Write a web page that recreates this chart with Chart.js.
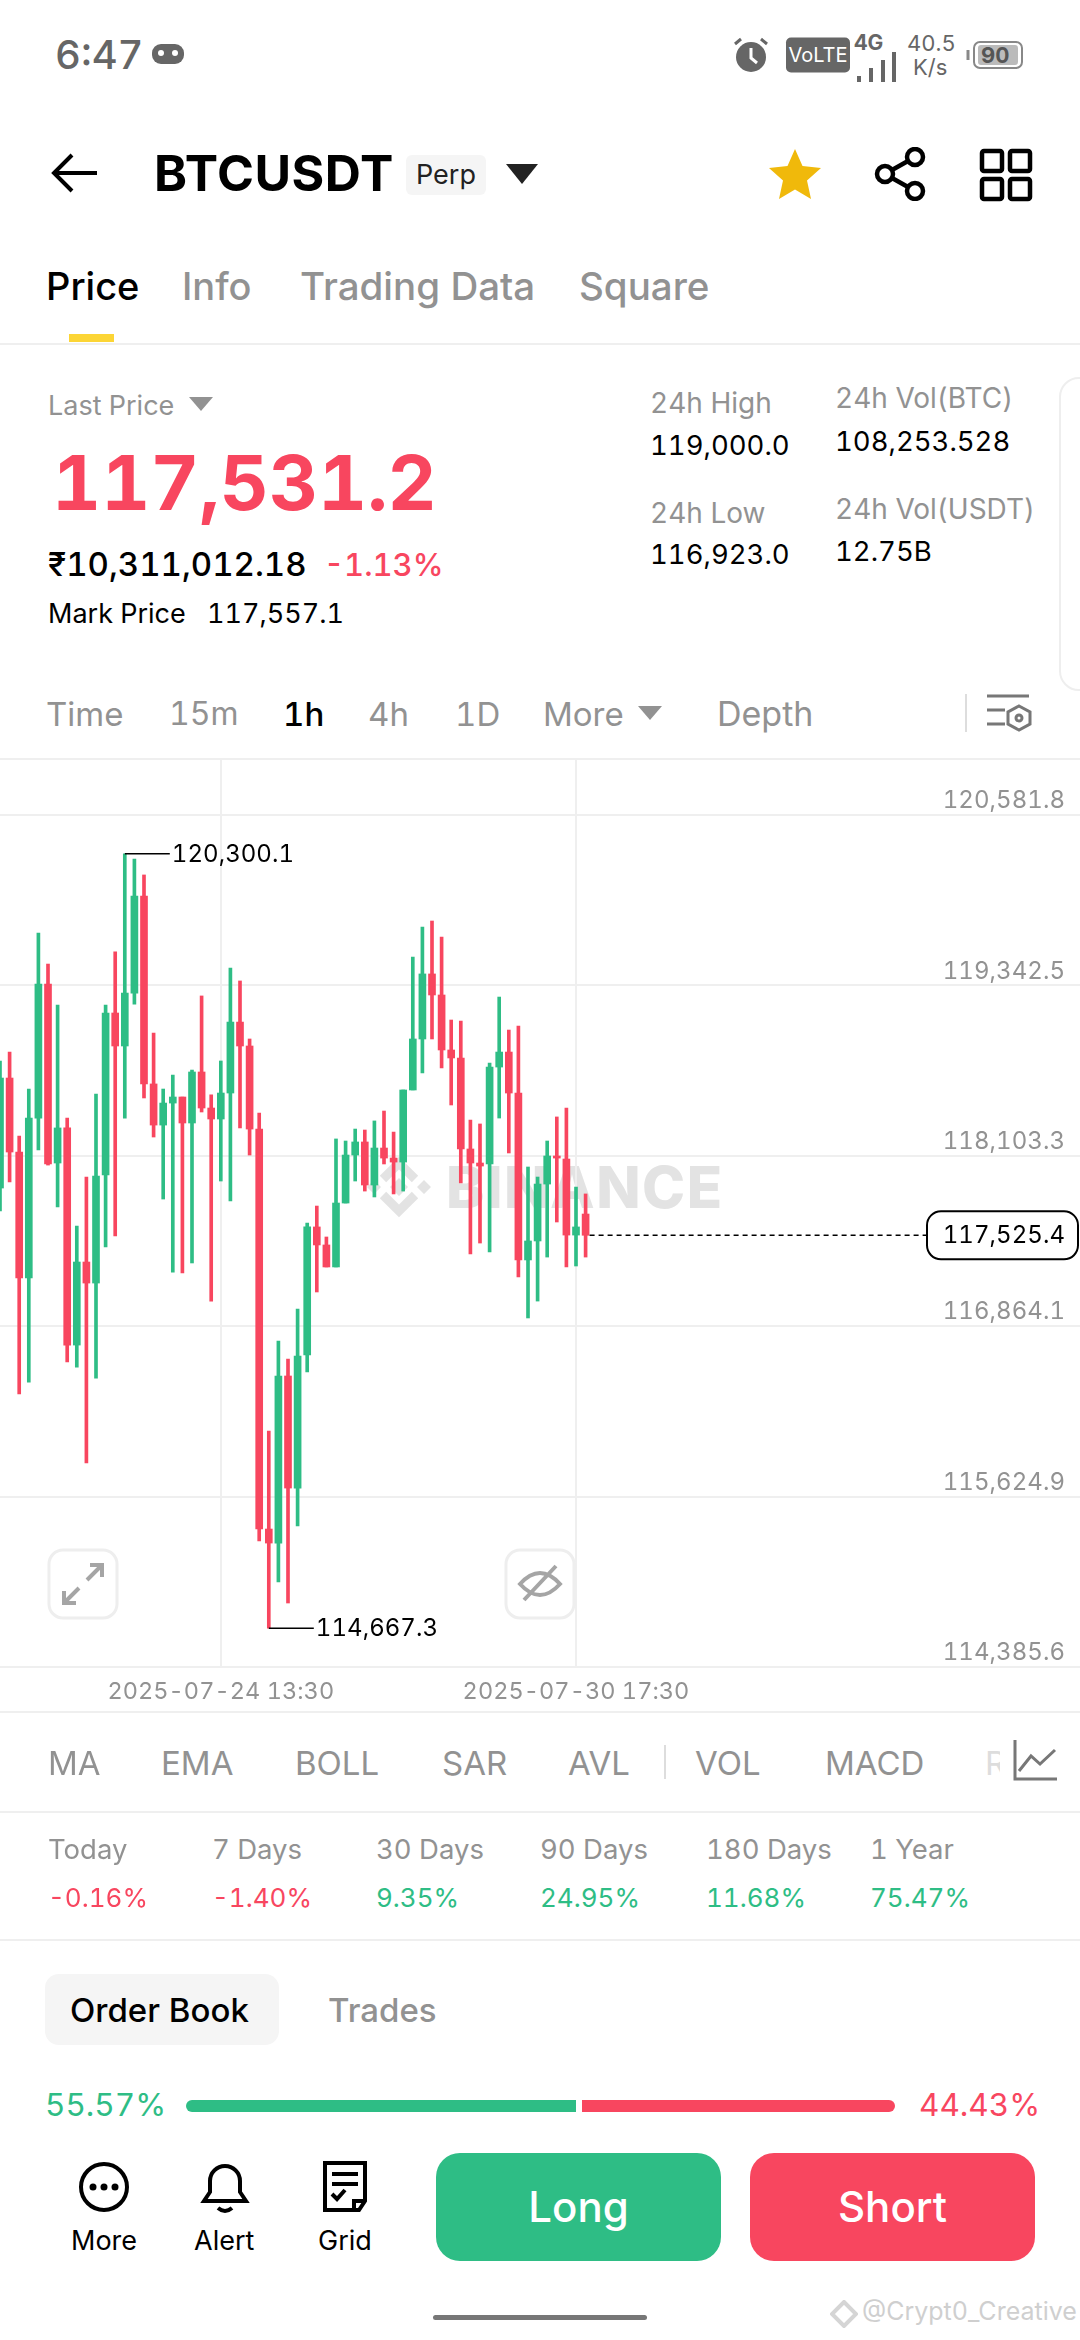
<!DOCTYPE html>
<html>
<head>
<meta charset="utf-8">
<script src="https://cdn.jsdelivr.net/npm/chart.js@4"></script>
<style>
  html, body { margin: 0; padding: 0; background: #fff; }
  body { width: 1080px; height: 2340px; position: relative; overflow: hidden; font-family: Inter, "Noto Sans", sans-serif; color: #000; font-variant-numeric: tabular-nums; }
  .t { position: absolute; white-space: nowrap; transform: translateY(-50%); line-height: 1; }
  .g { color: #929292; }
  .line { position: absolute; left: 0; width: 1080px; height: 2px; background: #efefef; }
  svg { position: absolute; }
  #chartBox { position: absolute; left: 0; top: 760px; }
</style>
</head>
<body>

<!-- status bar -->
<div class="t" style="left:55px;top:55px;font-size:40px;color:#666;font-weight:500">6:47</div>
<svg style="left:151px;top:42px" width="34" height="26" viewBox="0 0 34 26"><rect x="1" y="2" width="32" height="20" rx="9" fill="#666"/><circle cx="10" cy="11" r="3" fill="#fff"/><circle cx="24" cy="11" r="3" fill="#fff"/></svg>
<svg style="left:732px;top:36px" width="38" height="38" viewBox="0 0 38 38"><circle cx="19" cy="21" r="15" fill="#666"/><path d="M19 12v10l6 5" stroke="#fff" stroke-width="3" fill="none"/><path d="M3 8l6-5M35 8l-6-5" stroke="#666" stroke-width="3"/></svg>
<div class="t" style="left:786px;top:55px;width:64px;height:35px;background:#666;border-radius:5px;color:#fff;font-size:20px;text-align:center;line-height:35px">VoLTE</div>
<div class="t" style="left:854px;top:42px;font-size:21px;color:#666;font-weight:700">4G</div>
<svg style="left:856px;top:50px" width="40" height="36" viewBox="0 0 40 36"><path d="M3 26v6M15 18v14M27 10v22M38 2v30" stroke="#666" stroke-width="4"/></svg>
<div class="t" style="left:907px;top:43px;font-size:22px;color:#666">40.5</div>
<div class="t" style="left:913px;top:67px;font-size:22px;color:#666">K/s</div>
<svg style="left:966px;top:40px" width="58" height="30" viewBox="0 0 58 30"><rect x="8" y="2" width="48" height="26" rx="6" fill="none" stroke="#888" stroke-width="2"/><rect x="12" y="5" width="40" height="20" rx="3" fill="#bbb"/><path d="M2 10v10" stroke="#888" stroke-width="3"/></svg>
<div class="t" style="left:981px;top:55px;font-size:22px;color:#555;font-weight:700">90</div>

<!-- title row -->
<svg style="left:50px;top:150px" width="50" height="46" viewBox="0 0 50 46"><path d="M47 23H5M22 5L4 23l18 18" stroke="#000" stroke-width="4" fill="none"/></svg>
<div class="t" style="left:154px;top:173px;font-size:50px;font-weight:700;letter-spacing:0.5px">BTCUSDT</div>
<div class="t" style="left:406px;top:175px;width:80px;height:40px;background:#f5f5f5;border-radius:6px;font-size:27px;line-height:40px;text-align:center;color:#222">Perp</div>
<svg style="left:505px;top:163px" width="34" height="22" viewBox="0 0 34 22"><path d="M1 1h32L17 21z" fill="#222"/></svg>
<svg style="left:767px;top:146px" width="56" height="56" viewBox="0 0 56 56"><path d="M28 3l7.5 17 18.5 2-14 12.500 4 18.500L28 43.500 12 53l4-18.500L2 22l18.500-2z" fill="#F0B90B"/></svg>
<svg style="left:874px;top:147px" width="54" height="54" viewBox="0 0 54 54"><g fill="none" stroke="#000" stroke-width="4.500"><circle cx="11" cy="27" r="8"/><circle cx="41" cy="10" r="8"/><circle cx="41" cy="44" r="8"/><path d="M18 23l16-9M18 31l16 9"/></g></svg>
<svg style="left:979px;top:148px" width="54" height="54" viewBox="0 0 54 54"><g fill="none" stroke="#000" stroke-width="4.500"><rect x="3" y="3" width="20" height="20" rx="2"/><rect x="31" y="3" width="20" height="20" rx="2"/><rect x="3" y="31" width="20" height="20" rx="2"/><rect x="31" y="31" width="20" height="20" rx="2"/></g></svg>

<!-- tabs -->
<div class="t" style="left:46px;top:286px;font-size:38px;font-weight:500">Price</div>
<div class="t g" style="left:182px;top:286px;font-size:38px;font-weight:500">Info</div>
<div class="t g" style="left:300px;top:286px;font-size:38.500px;font-weight:500">Trading Data</div>
<div class="t g" style="left:579px;top:286px;font-size:38.500px;font-weight:500">Square</div>
<div style="position:absolute;left:69px;top:334px;width:45px;height:8px;background:#FCD535"></div>
<div class="line" style="top:343px"></div>

<!-- price block -->
<div class="t g" style="left:48px;top:405px;font-size:27px">Last Price</div>
<svg style="left:189px;top:397px" width="24" height="14" viewBox="0 0 24 14"><path d="M0 0h24L12 14z" fill="#929292"/></svg>
<div class="t" style="left:52px;top:482px;font-size:76px;font-weight:700;color:#F8465F">117,531.2</div>
<div class="t" style="left:48px;top:564px;font-size:33px;font-weight:500">₹10,311,012.18</div>
<div class="t" style="left:324px;top:564px;font-size:31px;font-weight:500;color:#F8465F">-1.13%</div>
<div class="t" style="left:48px;top:613px;font-size:27px">Mark Price</div>
<div class="t" style="left:207px;top:613px;font-size:27px">117,557.1</div>
<div class="t g" style="left:650px;top:403px;font-size:28px">24h High</div>
<div class="t" style="left:650px;top:446px;font-size:27.500px">119,000.0</div>
<div class="t g" style="left:650px;top:513px;font-size:28px">24h Low</div>
<div class="t" style="left:650px;top:555px;font-size:27.500px">116,923.0</div>
<div class="t g" style="left:835px;top:398px;font-size:28px">24h Vol(BTC)</div>
<div class="t" style="left:835px;top:442px;font-size:27.500px">108,253.528</div>
<div class="t g" style="left:835px;top:509px;font-size:28px">24h Vol(USDT)</div>
<div class="t" style="left:835px;top:552px;font-size:27.500px">12.75B</div>
<div style="position:absolute;left:1059px;top:377px;width:40px;height:314px;border:2px solid #eee;border-radius:22px;box-sizing:border-box"></div>

<!-- interval row -->
<div class="t g" style="left:46px;top:714px;font-size:33px">Time</div>
<div class="t g" style="left:169px;top:714px;font-size:32px">15m</div>
<div class="t" style="left:283px;top:714px;font-size:33px;font-weight:500">1h</div>
<div class="t g" style="left:368px;top:714px;font-size:33px">4h</div>
<div class="t g" style="left:455px;top:714px;font-size:33px">1D</div>
<div class="t g" style="left:543px;top:714px;font-size:33px">More</div>
<svg style="left:638px;top:706px" width="24" height="14" viewBox="0 0 24 14"><path d="M0 0h24L12 14z" fill="#929292"/></svg>
<div class="t g" style="left:717px;top:714px;font-size:34px">Depth</div>
<div style="position:absolute;left:965px;top:694px;width:2px;height:38px;background:#ddd"></div>
<svg style="left:985px;top:692px" width="48" height="44" viewBox="0 0 48 44"><g fill="none" stroke="#777" stroke-width="3"><path d="M2 4h42M2 18h18M2 32h18"/><path d="M34 14l11 6v12l-11 6-11-6V20z"/><circle cx="34" cy="26" r="3"/></g></svg>
<div class="line" style="top:758px"></div>

<!-- watermark under the canvas -->
<svg style="left:364px;top:1152px" width="70" height="70" viewBox="-35 -35 70 70"><g fill="none" stroke="#e3e3e3" stroke-width="9"><path d="M-16 -8L0 -24 16 -8M-16 8L0 24 16 8"/></g><path d="M0 -9L9 0 0 9-9 0zM-25 -7L-18 0-25 7-32 0zM25 -7L32 0 25 7 18 0z" fill="#e3e3e3"/></svg>
<div class="t" style="left:446px;top:1187px;font-size:58px;font-weight:800;color:#e3e3e3;letter-spacing:1.500px">BINANCE</div>

<!-- chart -->
<div id="chartBox"><canvas id="myChart" width="1080" height="952"></canvas></div>

<svg style="left:47px;top:1548px" width="72" height="72" viewBox="0 0 72 72"><rect x="2" y="2" width="68" height="68" rx="14" fill="#fff" fill-opacity="0.6" stroke="#eee" stroke-width="3"/><path d="M40 32L54 18M43 17h12v12M32 40L18 54M17 43v12h12" fill="none" stroke="#a5a5a5" stroke-width="4"/></svg>
<svg style="left:504px;top:1548px" width="72" height="72" viewBox="0 0 72 72"><rect x="2" y="2" width="68" height="68" rx="14" fill="#fff" fill-opacity="0.6" stroke="#eee" stroke-width="3"/><path d="M16 36q20-22 40 0q-20 22-40 0zM20 52L52 18" fill="none" stroke="#a5a5a5" stroke-width="4"/></svg>

<div class="line" style="top:1711px"></div>

<!-- indicator row -->
<div class="t g" style="left:48px;top:1763px;font-size:33px">MA</div>
<div class="t g" style="left:161px;top:1763px;font-size:33px">EMA</div>
<div class="t g" style="left:295px;top:1763px;font-size:33px">BOLL</div>
<div class="t g" style="left:442px;top:1763px;font-size:33px">SAR</div>
<div class="t g" style="left:568px;top:1763px;font-size:33px">AVL</div>
<div style="position:absolute;left:664px;top:1745px;width:2px;height:34px;background:#ddd"></div>
<div class="t g" style="left:695px;top:1763px;font-size:33px">VOL</div>
<div class="t g" style="left:825px;top:1763px;font-size:33px">MACD</div>
<div class="t" style="left:985px;top:1763px;font-size:33px;color:#ddd">R</div>
<div style="position:absolute;left:1000px;top:1736px;width:70px;height:50px;background:#fff"></div>
<svg style="left:1012px;top:1738px" width="46" height="44" viewBox="0 0 46 44"><path d="M3 2v39h42M7 33l12-15 9 8 15-14" fill="none" stroke="#777" stroke-width="3"/></svg>
<div class="line" style="top:1811px"></div>

<!-- returns -->
<div class="t g" style="left:48px;top:1850px;font-size:27.500px">Today</div>
<div class="t g" style="left:212px;top:1850px;font-size:27.500px">7 Days</div>
<div class="t g" style="left:376px;top:1850px;font-size:27.500px">30 Days</div>
<div class="t g" style="left:540px;top:1850px;font-size:27.500px">90 Days</div>
<div class="t g" style="left:706px;top:1850px;font-size:27.500px">180 Days</div>
<div class="t g" style="left:870px;top:1850px;font-size:27.500px">1 Year</div>
<div class="t" style="left:48px;top:1898px;font-size:26px;color:#F8465F">-0.16%</div>
<div class="t" style="left:212px;top:1898px;font-size:26px;color:#F8465F">-1.40%</div>
<div class="t" style="left:376px;top:1898px;font-size:26px;color:#2EBD85">9.35%</div>
<div class="t" style="left:540px;top:1898px;font-size:26px;color:#2EBD85">24.95%</div>
<div class="t" style="left:706px;top:1898px;font-size:26px;color:#2EBD85">11.68%</div>
<div class="t" style="left:870px;top:1898px;font-size:26px;color:#2EBD85">75.47%</div>
<div class="line" style="top:1939px"></div>

<!-- order book -->
<div style="position:absolute;left:45px;top:1974px;width:234px;height:71px;background:#f5f5f5;border-radius:14px"></div>
<div class="t" style="left:70px;top:2010px;font-size:33px;font-weight:500">Order Book</div>
<div class="t g" style="left:328px;top:2010px;font-size:33px;font-weight:500">Trades</div>
<div class="t" style="left:45px;top:2105px;font-size:31.500px;color:#2EBD85">55.57%</div>
<div class="t" style="left:919px;top:2105px;font-size:31.500px;color:#F8465F">44.43%</div>
<div style="position:absolute;left:186px;top:2100px;width:390px;height:12px;background:#2EBD85;border-radius:6px 0 0 6px"></div>
<div style="position:absolute;left:582px;top:2100px;width:313px;height:12px;background:#F8465F;border-radius:0 6px 6px 0"></div>

<!-- footer -->
<svg style="left:78px;top:2161px" width="52" height="52" viewBox="0 0 52 52"><circle cx="26" cy="26" r="23" fill="none" stroke="#000" stroke-width="4"/><circle cx="15" cy="26" r="3.500"/><circle cx="26" cy="26" r="3.500"/><circle cx="37" cy="26" r="3.500"/></svg>
<svg style="left:199px;top:2160px" width="52" height="54" viewBox="0 0 52 54"><path d="M5 41h42l-6-9V21a15 15 0 0 0-30 0v11zM19 48q7 6 14 0" fill="none" stroke="#000" stroke-width="4"/></svg>
<svg style="left:320px;top:2160px" width="50" height="54" viewBox="0 0 50 54"><path d="M5 3h40v38l-6 9H5zM12 14h26M12 24h26M12 34l5 5 8-9M34 50v-9h11" fill="none" stroke="#000" stroke-width="4"/></svg>
<div class="t" style="left:71px;top:2240px;font-size:27px">More</div>
<div class="t" style="left:194px;top:2240px;font-size:27px">Alert</div>
<div class="t" style="left:318px;top:2240px;font-size:27px">Grid</div>
<div style="position:absolute;left:436px;top:2153px;width:285px;height:108px;background:#2EBD85;border-radius:24px;color:#fff;font-size:42px;font-weight:500;text-align:center;line-height:108px">Long</div>
<div style="position:absolute;left:750px;top:2153px;width:285px;height:108px;background:#F8465F;border-radius:24px;color:#fff;font-size:42px;font-weight:500;text-align:center;line-height:108px">Short</div>
<div class="t" style="left:862px;top:2311px;font-size:25px;color:#cfcfcf">@Crypt0_Creative</div>
<svg style="left:830px;top:2300px" width="28" height="28" viewBox="-14 -14 28 28"><path d="M0 -12L12 0 0 12-12 0z" fill="none" stroke="#d5d5d5" stroke-width="4"/></svg>
<div style="position:absolute;left:433px;top:2315px;width:214px;height:5px;background:#777;border-radius:3px"></div>

<script>
// candles, oldest first
const opens = [117869,118669,118131,117215,118378,119353,118051,118306,116727,117331,
  117178,117964,119142,118902,119287,119993,118626,118327,118487,118531,
  118342,118713,118451,118371,118560,119076,118902,118298,115389,115287,
  116502,115687,116655,117586,117455,117295,117760,118109,118204,117891,
  118160,118087,118058,118582,118953,119426,119273,118873,118815,118153,
  118051,118044,118749,118858,118560,117346,117484,117898,118102,118080,
  117527,117680];
const closes = [118669,118131,117215,118378,119353,118044,118306,116727,117331,117178,
  117956,119142,118902,119287,119993,118626,118327,118487,118531,118342,
  118713,118451,118371,118560,119076,118902,118298,115389,115287,116502,
  115687,116647,117586,117455,117295,117760,118109,118204,117891,118160,
  118087,118058,118582,118953,119426,119273,118873,118815,118153,118051,
  118029,118749,118858,118560,117346,117484,117898,118102,118087,117527,
  117586,117525.4];
const highs = [118793,118858,118247,118589,119724,119498,119200,118378,117593,117949,
  118553,119200,119586,120300.1,120262,120146,118996,118589,118691,118531,
  118727,119266,118546,118793,119469,119375,118953,118415,116102,116756,
  116625,116989,117615,117738,117513,118226,118211,118298,118291,118357,
  118429,118276,118582,119549,119767,119811,119695,119091,119084,118364,
  118335,118778,119258,119018,119047,118022,117949,118211,118386,118451,
  117876,117826];
const lows = [117702,117913,116371,116458,118146,118036,117731,116604,116567,115869,
  116487,117440,117520,118378,119207,118524,118240,117789,117258,117251,
  117324,118422,117047,117920,117775,118306,118109,115302,114667.3,115004,
  114851,115411,116531,117113,117295,117295,117760,117920,117847,117804,
  118044,117826,117847,118582,118706,118953,118742,118473,117906,117389,
  117469,117404,118378,118124,117222,116924,117047,117367,117622,117295,
  117302,117367];

const priceTicks = [120581.8,119342.5,118103.3,116864.1,115624.9,114385.6];
const timeTickIndex = [23,60];
const timeTickLabels = ['2025-07-24 13:30','2025-07-30 17:30'];

const green = '#2EBD85';
const red = '#F8465F';
const colors = opens.map((o, i) => closes[i] >= o ? green : red);
const fmt = v => v.toLocaleString('en-US', { minimumFractionDigits: 1, maximumFractionDigits: 1 });

// any letter spacing turns off the narrow Inter digits in canvas text
const spacing = {
  id: 'spacing',
  beforeDraw(chart) { chart.ctx.letterSpacing = '0.05px'; }
};

// high / low tags and the last price line
const tags = {
  id: 'tags',
  afterDatasetsDraw(chart) {
    const { ctx, scales: { x, y } } = chart;
    ctx.save();
    ctx.font = '24px Inter';
    ctx.textBaseline = 'middle';
    ctx.strokeStyle = '#000';
    ctx.fillStyle = '#000';
    ctx.lineWidth = 1.5;

    const hi = Math.max(...highs), lo = Math.min(...lows);
    [[highs.indexOf(hi), hi], [lows.indexOf(lo), lo]].forEach(([i, v]) => {
      const px = x.getPixelForValue(i), py = y.getPixelForValue(v);
      ctx.beginPath();
      ctx.moveTo(px, py);
      ctx.lineTo(px + 45, py);
      ctx.stroke();
      ctx.textAlign = 'left';
      ctx.fillText(fmt(v), px + 47, py + 1);
    });

    const last = closes.length - 1;
    const ly = y.getPixelForValue(closes[last]);
    ctx.setLineDash([5, 4]);
    ctx.beginPath();
    ctx.moveTo(x.getPixelForValue(last) + 4, ly);
    ctx.lineTo(927, ly);
    ctx.stroke();
    ctx.setLineDash([]);
    ctx.fillStyle = '#fff';
    ctx.lineWidth = 2;
    ctx.beginPath();
    ctx.roundRect(927, ly - 24, 151, 48, 14);
    ctx.fill();
    ctx.stroke();
    ctx.fillStyle = '#000';
    ctx.textAlign = 'right';
    ctx.fillText(fmt(closes[last]), 1065, ly + 1);
    ctx.restore();
  }
};

const myChart = new Chart(document.getElementById('myChart').getContext('2d'), {
  type: 'bar',
  data: {
    datasets: [
      // wicks
      {
        data: opens.map((o, i) => ({ x: i, y: [lows[i], highs[i]] })),
        backgroundColor: colors,
        barThickness: 3,
        grouped: false,
        order: 2
      },
      // bodies
      {
        data: opens.map((o, i) => ({ x: i, y: [o, closes[i]] })),
        backgroundColor: colors,
        barThickness: 7,
        grouped: false,
        order: 1
      }
    ]
  },
  options: {
    responsive: false,
    animation: false,
    layout: { padding: 0, autoPadding: false },
    scales: {
      x: {
        type: 'linear',
        offset: false,
        min: 0,
        max: 112.5,
        afterBuildTicks: s => { s.ticks = timeTickIndex.map(v => ({ value: v })); },
        // no margins, the plot runs edge to edge
        afterFit: s => { s.height = 45; s.paddingLeft = 0; s.paddingRight = 0; s.paddingTop = 0; s.paddingBottom = 0; },
        grid: { offset: false, color: '#efefef', lineWidth: 2, drawTicks: false },
        border: { display: false },
        ticks: {
          maxRotation: 0,
          autoSkip: false,
          padding: 11,
          color: '#929292',
          font: { family: 'Inter', size: 23.5 },
          callback: v => timeTickLabels[timeTickIndex.indexOf(v)]
        }
      },
      y: {
        position: 'right',
        min: 114385.6,
        max: 120982,
        afterBuildTicks: s => { s.ticks = priceTicks.map(v => ({ value: v })); },
        afterFit: s => { s.width = 0; s.paddingLeft = 0; s.paddingRight = 0; s.paddingTop = 0; s.paddingBottom = 0; },
        grid: { color: '#efefef', lineWidth: 2, drawTicks: false },
        border: { display: false },
        ticks: {
          mirror: true,
          padding: -15,
          labelOffset: -14,
          color: '#929292',
          font: { family: 'Inter', size: 24 },
          callback: v => fmt(v)
        }
      }
    },
    plugins: { legend: { display: false }, tooltip: { enabled: false } }
  },
  plugins: [spacing, tags]
});
</script>
</body>
</html>
